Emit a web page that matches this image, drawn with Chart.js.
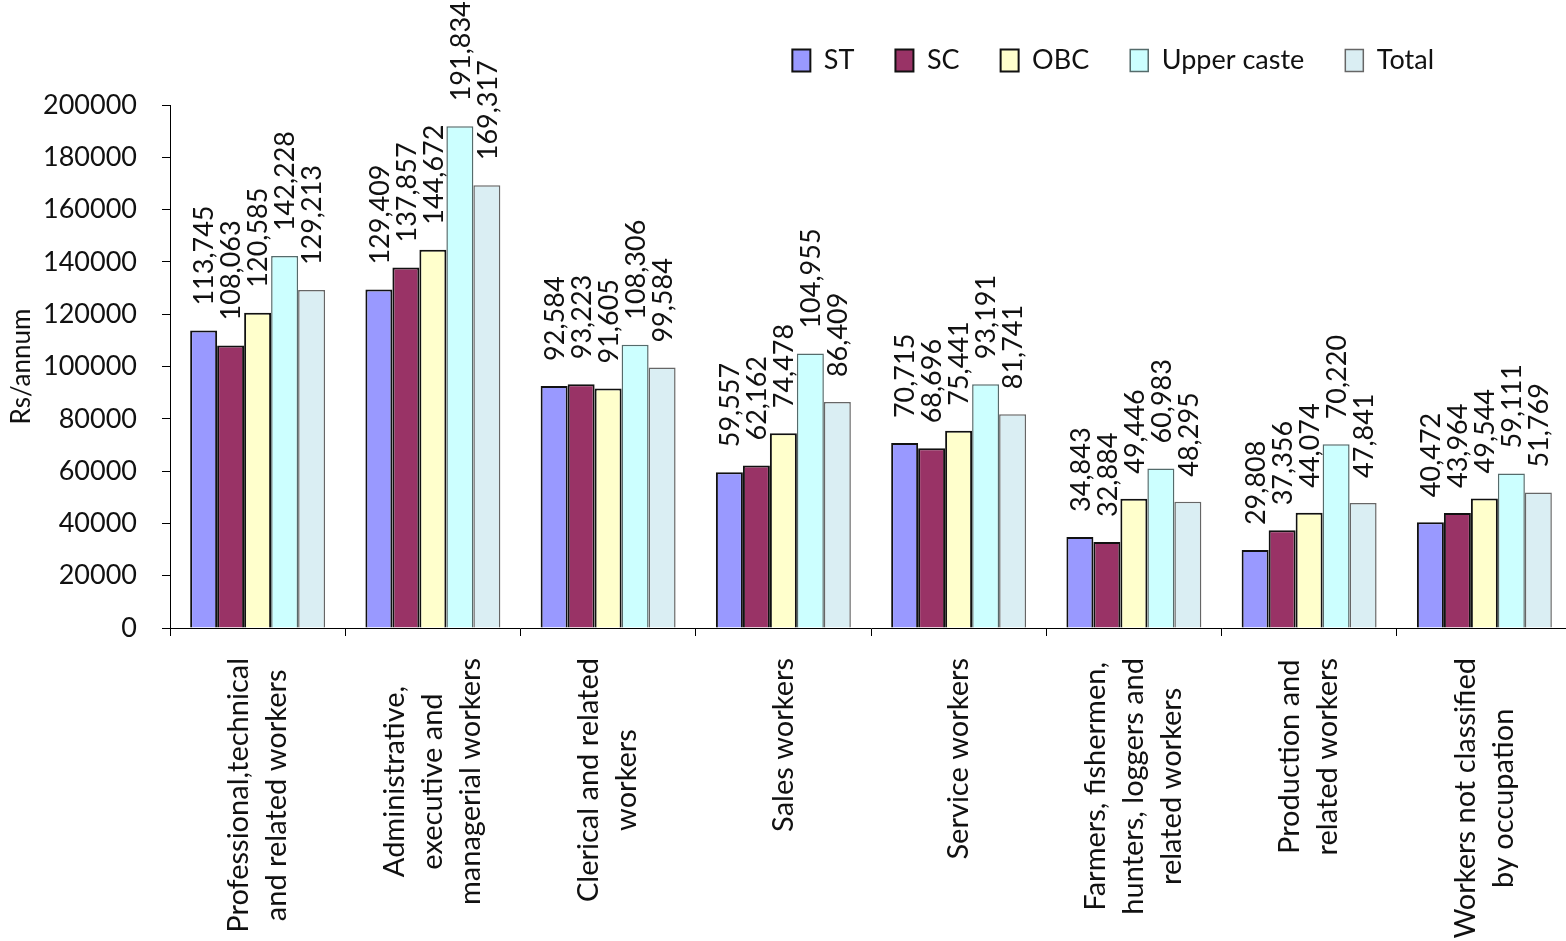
<!DOCTYPE html>
<html>
<head>
<meta charset="utf-8">
<script src="https://cdn.jsdelivr.net/npm/chart.js@4"></script>
<style>
  html, body { margin: 0; padding: 0; background: #fff; overflow: hidden; }
</style>
</head>
<body>
<canvas id="incomeChart" width="1572" height="941"></canvas>
<script>
const categories = [
    ["Professional,technical", "and related workers"],
    ["Administrative,", "executive and", "managerial workers"],
    ["Clerical and related", "workers"],
    ["Sales workers"],
    ["Service workers"],
    ["Farmers, fishermen,", "hunters, loggers and", "related workers"],
    ["Production and", "related workers"],
    ["Workers not classified", "by occupation"]
];

const stValues = [113745, 129409, 92584, 59557, 70715, 34843, 29808, 40472];
const scValues = [108063, 137857, 93223, 62162, 68696, 32884, 37356, 43964];
const obcValues = [120585, 144672, 91605, 74478, 75441, 49446, 44074, 49544];
const upperValues = [142228, 191834, 108306, 104955, 93191, 60983, 70220, 59111];
const totalValues = [129213, 169317, 99584, 86409, 81741, 48295, 47841, 51769];

const yTicks = [0, 20000, 40000, 60000, 80000, 100000, 120000, 140000, 160000, 180000, 200000];

const FONT = "Lato, 'Open Sans', 'Liberation Sans', sans-serif";

// value labels, rotated, above every bar
const barLabels = {
    id: "barLabels",
    afterDatasetsDraw(chart) {
        const ctx = chart.ctx;
        ctx.save();
        ctx.font = "27px " + FONT;
        ctx.fillStyle = "#111";
        ctx.textAlign = "left";
        ctx.textBaseline = "middle";
        chart.data.datasets.forEach(function (ds, di) {
            chart.getDatasetMeta(di).data.forEach(function (bar, i) {
                ctx.save();
                ctx.translate(bar.x + 1, bar.y - 25);
                ctx.rotate(-Math.PI / 2);
                ctx.fillText(ds.data[i].toLocaleString("en-US"), 0, 0);
                ctx.restore();
            });
        });
        ctx.restore();
    }
};

// category names, rotated, lines centred in a block hanging from the axis
const categoryLabels = {
    id: "categoryLabels",
    afterDraw(chart) {
        const ctx = chart.ctx;
        const xScale = chart.scales.x;
        const lineH = 38;
        ctx.save();
        ctx.font = "29px " + FONT;
        ctx.fillStyle = "#111";
        ctx.textAlign = "center";
        ctx.textBaseline = "middle";
        categories.forEach(function (lines, i) {
            const cx = xScale.getPixelForValue(i);
            const w = Math.max.apply(null, lines.map(l => ctx.measureText(l).width));
            const top = xScale.bottom + 22;
            lines.forEach(function (line, k) {
                const lx = cx - (lines.length - 1) * lineH / 2 + k * lineH;
                ctx.save();
                ctx.translate(lx, top + w / 2);
                ctx.rotate(-Math.PI / 2);
                ctx.fillText(line, 0, 0);
                ctx.restore();
            });
        });
        ctx.restore();
    }
};

// push the legend down a bit and keep it off the right edge
const legendTweak = {
    id: "legendTweak",
    beforeInit(chart) {
        const legend = chart.legend;
        const fit = legend.fit;
        legend.fit = function () {
            fit.call(this);
            this.height += 21;
        };
    },
    afterLayout(chart) {
        chart.legend.right = chart.width - 97;
    }
};

const ctx = document.getElementById("incomeChart").getContext("2d");

new Chart(ctx, {
    type: "bar",
    data: {
        labels: categories.map(c => c.join(" ")),
        datasets: [
            { label: "ST", data: stValues, backgroundColor: "#9999FF", borderColor: "#111", borderWidth: 2 },
            { label: "SC", data: scValues, backgroundColor: "#993366", borderColor: "#111", borderWidth: 2 },
            { label: "OBC", data: obcValues, backgroundColor: "#FFFFCC", borderColor: "#111", borderWidth: 2 },
            { label: "Upper caste", data: upperValues, backgroundColor: "#CCFFFF", borderColor: "#556b6b", borderWidth: 1.5 },
            { label: "Total", data: totalValues, backgroundColor: "#DAEEF3", borderColor: "#666", borderWidth: 1.5 }
        ]
    },
    options: {
        responsive: false,
        animation: false,
        layout: { padding: { top: 6, right: 0, bottom: 305, left: 0 } },
        datasets: {
            bar: { categoryPercentage: 0.77, barPercentage: 1.0, borderSkipped: "bottom" }
        },
        scales: {
            x: {
                ticks: { display: false },
                grid: { offset: true, drawOnChartArea: false, drawTicks: true, tickLength: 8, color: "#000" },
                border: { display: true, color: "#000", width: 1 }
            },
            y: {
                min: 0,
                max: 200000,
                afterFit(scale) { scale.width = 170; },
                afterBuildTicks(scale) { scale.ticks = yTicks.map(v => ({ value: v })); },
                ticks: {
                    padding: 25,
                    color: "#111",
                    font: { family: FONT, size: 27 },
                    callback: v => String(v)
                },
                grid: { drawOnChartArea: false, drawTicks: true, tickLength: 8, color: "#000" },
                border: { display: true, color: "#000", width: 1 },
                title: {
                    display: true,
                    text: "Rs/annum",
                    color: "#111",
                    font: { family: FONT, size: 26 },
                    padding: { top: 6, bottom: 0 }
                }
            }
        },
        plugins: {
            legend: {
                position: "top",
                align: "end",
                labels: {
                    boxWidth: 18,
                    boxHeight: 22,
                    padding: 41,
                    color: "#111",
                    font: { family: FONT, size: 27 }
                }
            },
            tooltip: { enabled: false },
            title: { display: false }
        }
    },
    plugins: [barLabels, categoryLabels, legendTweak]
});
</script>
</body>
</html>
